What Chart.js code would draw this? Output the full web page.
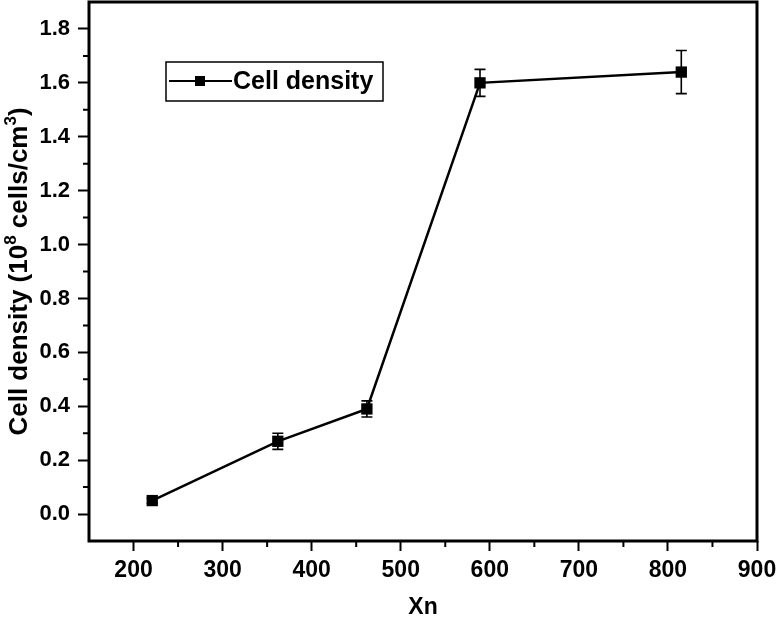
<!DOCTYPE html>
<html>
<head>
<meta charset="utf-8">
<script src="https://cdn.jsdelivr.net/npm/chart.js@4.4.1/dist/chart.umd.min.js"></script>
<style>
  body { margin: 0; background: #fff; }
</style>
</head>
<body>
<canvas id="cell-chart" width="777" height="621"></canvas>
<script>
// values
const xn = [221, 362, 462, 589, 815]
const cellDensity = [0.05, 0.27, 0.39, 1.6, 1.64]
const densityError = [0.01, 0.03, 0.03, 0.05, 0.08]
const xTicks = [200, 300, 400, 500, 600, 700, 800, 900]
const yTicks = [0, 0.2, 0.4, 0.6, 0.8, 1.0, 1.2, 1.4, 1.6, 1.8]
// y title pieces, true = superscript
const yTitleParts = [['Cell density (10', false], ['8', true], [' cells/cm', false], ['3', true], [')', false]]

const FONT = "'Liberation Sans', Arial, sans-serif"

// error bars drawn through the scales
const errorBars = {
  id: 'errorBars',
  beforeDatasetsDraw(chart) {
    const { ctx, scales: { x, y } } = chart
    ctx.save()
    ctx.strokeStyle = '#000'
    ctx.lineWidth = 1.6
    xn.forEach((v, i) => {
      const px = x.getPixelForValue(v)
      const hi = y.getPixelForValue(cellDensity[i] + densityError[i])
      const lo = y.getPixelForValue(cellDensity[i] - densityError[i])
      ctx.beginPath()
      ctx.moveTo(px, hi); ctx.lineTo(px, lo)
      ctx.moveTo(px - 5.5, hi); ctx.lineTo(px + 5.5, hi)
      ctx.moveTo(px - 5.5, lo); ctx.lineTo(px + 5.5, lo)
      ctx.stroke()
    })
    ctx.restore()
  },
}

// box around the plot + minor ticks + y title with real superscripts
const frame = {
  id: 'frame',
  afterDraw(chart) {
    const { ctx, chartArea: a, scales: { x, y } } = chart
    ctx.save()
    ctx.strokeStyle = '#000'
    ctx.lineWidth = 3
    ctx.strokeRect(a.left, a.top, a.right - a.left, a.bottom - a.top)
    ctx.lineWidth = 2
    ctx.beginPath()
    for (let v = 250; v < 900; v += 100) {
      const px = x.getPixelForValue(v)
      ctx.moveTo(px, a.bottom); ctx.lineTo(px, a.bottom + 6)
    }
    for (let v = 0.1; v < 1.85; v += 0.2) {
      const py = y.getPixelForValue(v)
      ctx.moveTo(a.left, py); ctx.lineTo(a.left - 6, py)
    }
    ctx.stroke()

    ctx.fillStyle = '#000'
    ctx.translate(27, (a.top + a.bottom) / 2)
    ctx.rotate(-Math.PI / 2)
    ctx.textBaseline = 'alphabetic'
    const fontFor = (sup) => 'bold ' + (sup ? 17 : 26) + 'px ' + FONT
    let total = 0
    yTitleParts.forEach(([t, sup]) => { ctx.font = fontFor(sup); total += ctx.measureText(t).width })
    let cx = -total / 2
    yTitleParts.forEach(([t, sup]) => {
      ctx.font = fontFor(sup)
      ctx.fillText(t, cx, sup ? -11 : 0)
      cx += ctx.measureText(t).width
    })
    ctx.restore()
  },
}

// legend box inside the plot, like the original
const boxLegend = {
  id: 'boxLegend',
  afterDraw(chart) {
    const { ctx } = chart
    const ds = chart.data.datasets[0]
    ctx.save()
    ctx.strokeStyle = '#000'
    ctx.lineWidth = 1.5
    ctx.strokeRect(166, 62, 217, 39)
    ctx.lineWidth = 2
    ctx.beginPath()
    ctx.moveTo(169, 81); ctx.lineTo(232, 81)
    ctx.stroke()
    ctx.fillStyle = '#000'
    ctx.fillRect(195, 76, 10, 10)
    ctx.font = 'bold 25px ' + FONT
    ctx.textBaseline = 'middle'
    ctx.fillText(ds.label, 233, 82)
    ctx.restore()
  },
}

const cellConfig = {
  type: 'line',
  data: {
    datasets: [
      {
        label: 'Cell density',
        data: xn.map((v, i) => ({ x: v, y: cellDensity[i] })),
        borderColor: '#000',
        backgroundColor: '#000',
        borderWidth: 2.5,
        pointStyle: 'rect',
        pointRadius: 8,
        pointBorderWidth: 0,
        tension: 0,
      },
    ],
  },
  options: {
    responsive: false,
    animation: false,
    layout: { autoPadding: false, padding: { left: 0, top: 2, right: 20, bottom: 0 } },
    plugins: {
      legend: { display: false },
      tooltip: { enabled: false },
    },
    scales: {
      x: {
        type: 'linear',
        min: 150,
        max: 900,
        afterFit: (s) => { s.height = 80; s.paddingLeft = 0; s.paddingRight = 0 },
        afterBuildTicks: (s) => { s.ticks = xTicks.map((v) => ({ value: v })) },
        grid: { drawOnChartArea: false, tickLength: 10, tickWidth: 2, tickColor: '#000' },
        border: { display: false },
        ticks: { color: '#000', padding: 6, font: { family: FONT, size: 23, weight: 'bold' } },
        title: {
          display: true,
          text: 'Xn',
          color: '#000',
          padding: { top: 0, bottom: 0 },
          font: { family: FONT, size: 23, weight: 'bold' },
        },
      },
      y: {
        type: 'linear',
        min: -0.1,
        max: 1.9,
        afterFit: (s) => { s.width = 89; s.paddingTop = 0; s.paddingBottom = 0 },
        afterBuildTicks: (s) => { s.ticks = yTicks.map((v) => ({ value: v })) },
        grid: { drawOnChartArea: false, tickLength: 11, tickWidth: 2, tickColor: '#000' },
        border: { display: false },
        ticks: {
          color: '#000',
          padding: 8,
          font: { family: FONT, size: 22, weight: 'bold' },
          callback: (v) => v.toFixed(1),
        },
        title: { display: false },
      },
    },
  },
  plugins: [errorBars, frame, boxLegend],
}

const cellChart = document.getElementById('cell-chart')
window.myLine = new Chart(cellChart, cellConfig)
</script>
</body>
</html>
